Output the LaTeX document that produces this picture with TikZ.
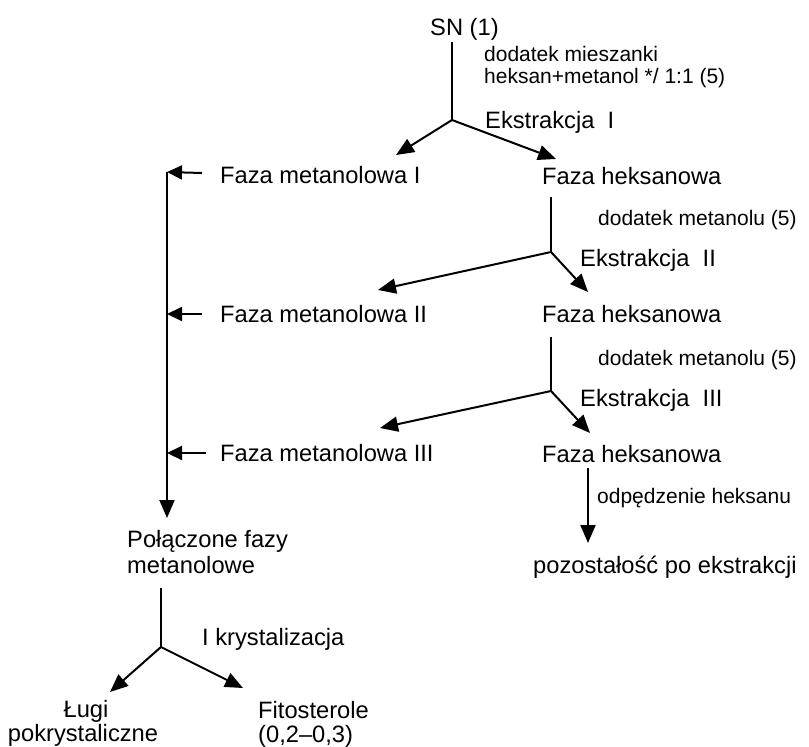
\documentclass[tikz,border=0pt]{standalone}
\usepackage{fontspec}
\setmainfont{Liberation Sans}
\usetikzlibrary{arrows.meta}
\begin{document}
\begin{tikzpicture}[x=1pt,y=-1pt,
  big/.style={font=\fontsize{23.7}{28}\selectfont, inner sep=0pt, anchor=base west},
  small/.style={font=\fontsize{21}{25}\selectfont, inner sep=0pt, anchor=base west},
  ln/.style={line width=2pt},
  arr/.style={line width=2pt,-{Triangle[length=18pt,width=15pt]}},
  harr/.style={line width=2pt,-{Triangle[length=15pt,width=14pt]}}]
\useasboundingbox (0,0) rectangle (809,747);

% texts
\node[big] (sn) at (430,35) {SN (1)};
\node[small] (dod1) at (484,61) {dodatek mieszanki};
\node[small] (dod1b) at (484,83) {heksan+metanol */ 1:1 (5)};
\node[big] (ek1) at (485,128) {Ekstrakcja\ \ I};
\node[big] (fm1) at (220,183) {Faza metanolowa I};
\node[big] (fh1) at (542,184) {Faza heksanowa};
\node[small] (dod2) at (598,225) {dodatek metanolu (5)};
\node[big] (ek2) at (580,266) {Ekstrakcja\ \ II};
\node[big] (fm2) at (220,322) {Faza metanolowa II};
\node[big] (fh2) at (542,322) {Faza heksanowa};
\node[small] (dod3) at (598,365) {dodatek metanolu (5)};
\node[big] (ek3) at (580,406) {Ekstrakcja\ \ III};
\node[big] (fm3) at (220,461) {Faza metanolowa III};
\node[big] (fh3) at (542,462) {Faza heksanowa};
\node[small] (odp) at (597,503) {odpędzenie heksanu};
\node[big] (poz) at (533,573) {pozostałość po ekstrakcji};
\node[big] (pol1) at (127,547) {Połączone fazy};
\node[big] (pol2) at (127,573) {metanolowe};
\node[big] (kr) at (202,645) {I krystalizacja};
\node[big, anchor=base] (lug1) at (86,717) {Ługi};
\node[big, anchor=base] (lug2) at (83,741) {pokrystaliczne};
\node[big] (fit1) at (258,718) {Fitosterole};
\node[big] (fit2) at (258,742) {(0,2–0,3)};

% coordinates
\coordinate (a0) at (452,42);
\coordinate (b1) at (452,120);
\coordinate (t1l) at (396,155);
\coordinate (t1r) at (556,159);
\coordinate (a2) at (551,197);
\coordinate (b2) at (551,252);
\coordinate (t2l) at (378,290);
\coordinate (t2r) at (588,292);
\coordinate (a3) at (551,337);
\coordinate (b3) at (551,391);
\coordinate (t3l) at (380,428);
\coordinate (t3r) at (590,433);
\coordinate (a4) at (588,468);
\coordinate (t4) at (588,543);
\coordinate (m1) at (202,173);
\coordinate (m2) at (202,314);
\coordinate (m3) at (206,453);
\coordinate (v1) at (167,172);
\coordinate (v2) at (167,314);
\coordinate (v3) at (167,453);
\coordinate (vt) at (167,518);
\coordinate (a5) at (161,588);
\coordinate (b5) at (161,647);
\coordinate (t5l) at (110,692);
\coordinate (t5r) at (243,688);

% connectors
\draw[ln] (a0) -- (b1);
\draw[arr] (b1) -- (t1l);
\draw[arr] (b1) -- (t1r);
\draw[ln] (a2) -- (b2);
\draw[arr] (b2) -- (t2l);
\draw[arr] (b2) -- (t2r);
\draw[ln] (a3) -- (b3);
\draw[arr] (b3) -- (t3l);
\draw[arr] (b3) -- (t3r);
\draw[arr] (a4) -- (t4);
\draw[harr] (m1) -- (v1);
\draw[harr] (m2) -- (v2);
\draw[harr] (m3) -- (v3);
\draw[arr] (v1) -- (vt);
\draw[ln] (a5) -- (b5);
\draw[arr] (b5) -- (t5l);
\draw[arr] (b5) -- (t5r);
\end{tikzpicture}
\end{document}
